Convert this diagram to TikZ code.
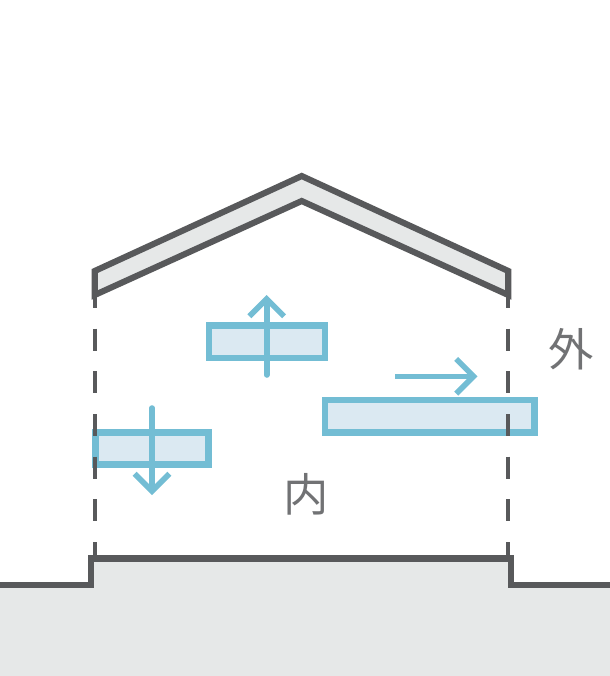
\documentclass[tikz,border=0pt]{standalone}
\usepackage{xcolor}
\usepackage{fontspec}
\newfontfamily\cjkfont{Noto Sans CJK JP}
\usetikzlibrary{arrows.meta}
\definecolor{wallgray}{HTML}{58595B}
\definecolor{soilgray}{HTML}{E6E8E8}
\definecolor{panelblue}{HTML}{73BDD4}
\definecolor{panelfill}{HTML}{DBE9F2}

\begin{document}
\begin{tikzpicture}[
    x=0.75pt, y=-0.75pt,
    shell/.style={draw=wallgray, line width=4.6pt, miter limit=10},
    floorline/.style={draw=wallgray, line width=4.8pt},
    boundary/.style={draw=wallgray, line width=2.8pt, dash pattern=on 16.5pt off 15.5pt},
    panel/.style={draw=panelblue, fill=panelfill, line width=4.8pt, inner sep=0pt},
    shift arrow/.style={draw=panelblue, line width=4.2pt, -{Straight Barb[length=13pt, width=26pt, line width=4.2pt]}},
    label/.style={font=\cjkfont\fontsize{34}{34}\selectfont, text=wallgray!85, inner sep=0pt}
]
\useasboundingbox (0,0) rectangle (610,676);
% ground
\fill[soilgray] (0,585) -- (90.7,585) -- (90.7,558.3) -- (511,558.3) -- (511,585) -- (610,585) -- (610,676) -- (0,676) -- cycle;
\draw[floorline] (0,585) -- (90.7,585) -- (90.7,558.3) -- (511,558.3) -- (511,585) -- (610,585);
% roof
\draw[shell, fill=soilgray] (94.7,271) -- (301.7,176) -- (508.3,271) -- (508.3,295) -- (301.7,201) -- (94.7,295) -- cycle;
% panels
\node[panel, minimum width=87pt, minimum height=24.2pt] (upperpanel) at (267,341.8) {};
\node[panel, minimum width=85pt, minimum height=24pt] (lowerpanel) at (152,448.3) {};
\node[panel, minimum width=157pt, minimum height=24.4pt] (sidepanel) at (429.7,416.2) {};
% shifts
\coordinate (upstart) at (266.7,375);
\coordinate (upend) at (266.7,295);
\coordinate (downstart) at (152,408);
\coordinate (downend) at (152,495);
\coordinate (sidestart) at (395.3,376.3);
\coordinate (sideend) at (477.5,376.3);
\draw[shift arrow, line cap=round] (upstart) -- (upend);
\draw[shift arrow, line cap=round] (downstart) -- (downend);
\draw[shift arrow] (sidestart) -- (sideend);
% wall lines
\coordinate (lefttop) at (94.7,286);
\coordinate (leftfoot) at (94.7,557);
\coordinate (righttop) at (508.3,286);
\coordinate (rightfoot) at (508.3,557);
\draw[boundary] (lefttop) -- (leftfoot);
\draw[boundary] (righttop) -- (rightfoot);
% labels
\node[label] (inside) at (306,494) {内};
\node[label] (outside) at (571,349) {外};
\end{tikzpicture}
\end{document}
